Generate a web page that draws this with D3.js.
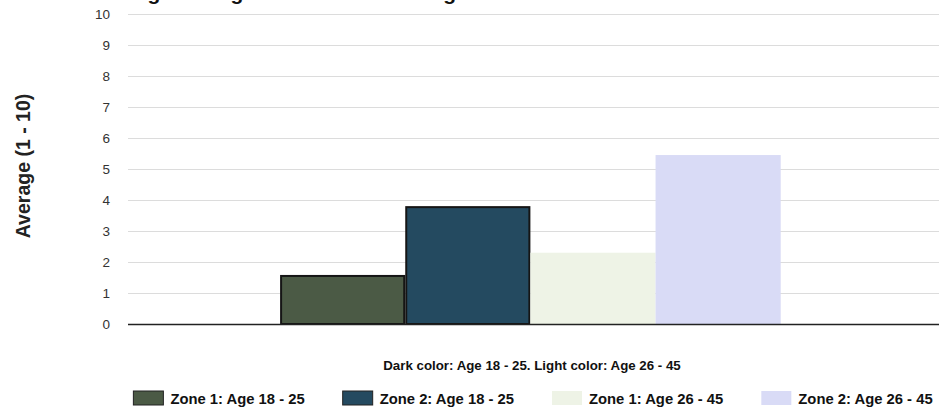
<!DOCTYPE html>
<html><head><meta charset="utf-8">
<script src="https://cdn.jsdelivr.net/npm/d3@7"></script>
<style>body{margin:0;background:#fff;}svg{display:block;font-family:"Liberation Sans",Arial,sans-serif;}</style>
</head><body>
<svg id="c" width="939" height="416"></svg>
<script>
const title = "Average Rating in Each Zone and Age";
const yAxisLabel = "Average (1 - 10)";
const legendTitle = "Dark color: Age 18 - 25. Light color: Age 26 - 45";
const categories = [""];
const seriesNames = ["Zone 1: Age 18 - 25", "Zone 2: Age 18 - 25", "Zone 1: Age 26 - 45", "Zone 2: Age 26 - 45"];
const seriesValues = [1.55, 3.77, 2.3, 5.45];
const seriesColors = ["#4b5a45", "#244a60", "#eef3e6", "#d9dbf6"];
const seriesStroke = [true, true, false, false];
const yTicks = [0,1,2,3,4,5,6,7,8,9,10];

const svg = d3.select("#c");
const W = 939;
const m = {left:128, right:0, top:14, bottom:92};
const x0 = d3.scaleBand().domain(categories).range([m.left, W]).paddingInner(0).paddingOuter(0.31).align(0.49);
const x1 = d3.scaleBand().domain(seriesNames).range([0, x0.bandwidth()]);
const y = d3.scaleLinear().domain([0,10]).range([324, 14]);

// title (cut off at top, as in the reference)
svg.append("text").attr("x", 90).attr("y", 0).attr("font-size", 21).attr("font-weight", "bold")
  .attr("fill", "#111").text(title);

// gridlines
svg.append("g").selectAll("line").data(yTicks.filter(d=>d>0)).join("line")
  .attr("x1", m.left).attr("x2", W).attr("y1", d=>y(d)+0.5).attr("y2", d=>y(d)+0.5)
  .attr("stroke", "#dcdcdc").attr("stroke-width", 1);

// y axis labels
const yAxis = d3.axisLeft(y).tickValues(yTicks).tickSize(0).tickPadding(0);
const ga = svg.append("g").attr("transform", `translate(${m.left-18},0)`).call(yAxis);
ga.select(".domain").remove();
ga.selectAll("text").attr("font-size", 13.5).attr("fill", "#333").attr("font-family", "Liberation Sans, Arial, sans-serif");

// bars
const g = svg.append("g");
categories.forEach((cat) => {
  g.selectAll("rect").data(seriesNames).join("rect")
    .attr("x", (s) => x0(cat) + x1(s) + (seriesStroke[seriesNames.indexOf(s)] ? 1 : 0))
    .attr("width", (s) => x1.bandwidth() - (seriesStroke[seriesNames.indexOf(s)] ? 2 : 0))
    .attr("y", (s,i) => y(seriesValues[i]))
    .attr("height", (s,i) => y(0) - y(seriesValues[i]))
    .attr("fill", (s,i) => seriesColors[i])
    .attr("stroke", (s,i) => seriesStroke[i] ? "#151515" : "none")
    .attr("stroke-width", 2);
});

// baseline
svg.append("line").attr("x1", m.left).attr("x2", W).attr("y1", y(0)+0.5).attr("y2", y(0)+0.5)
  .attr("stroke", "#222").attr("stroke-width", 1.5);

// y axis title
svg.append("text").attr("transform", `translate(30,${166}) rotate(-90)`).attr("text-anchor", "middle")
  .attr("font-size", 19.5).attr("font-weight", "bold").attr("fill", "#222").text(yAxisLabel);

// legend title
svg.append("text").attr("x", 532).attr("y", 370).attr("text-anchor", "middle")
  .attr("font-size", 13.3).attr("font-weight", "bold").attr("fill", "#111").text(legendTitle);

// legend items
const lg = svg.append("g");
const items = lg.selectAll("g").data(seriesNames).join("g");
items.append("rect").attr("width", 30).attr("height", 14).attr("y", 391)
  .attr("fill", (d,i)=>seriesColors[i])
  .attr("stroke", (d,i)=> seriesStroke[i] ? "#222" : "none").attr("stroke-width", 1);
items.append("text").attr("x", 37).attr("y", 404).attr("font-size", 14.8).attr("font-weight", "bold")
  .attr("fill", "#111").text(d=>d);
const widths = [];
items.each(function(){ widths.push(37 + d3.select(this).select("text").node().getComputedTextLength()); });
const gap = 38;
const total = d3.sum(widths) + gap*(widths.length-1);
let cx = 533 - total/2;
items.attr("transform", (d,i)=>{ const t = `translate(${cx},0)`; cx += widths[i] + gap; return t; });
</script>
</body></html>
